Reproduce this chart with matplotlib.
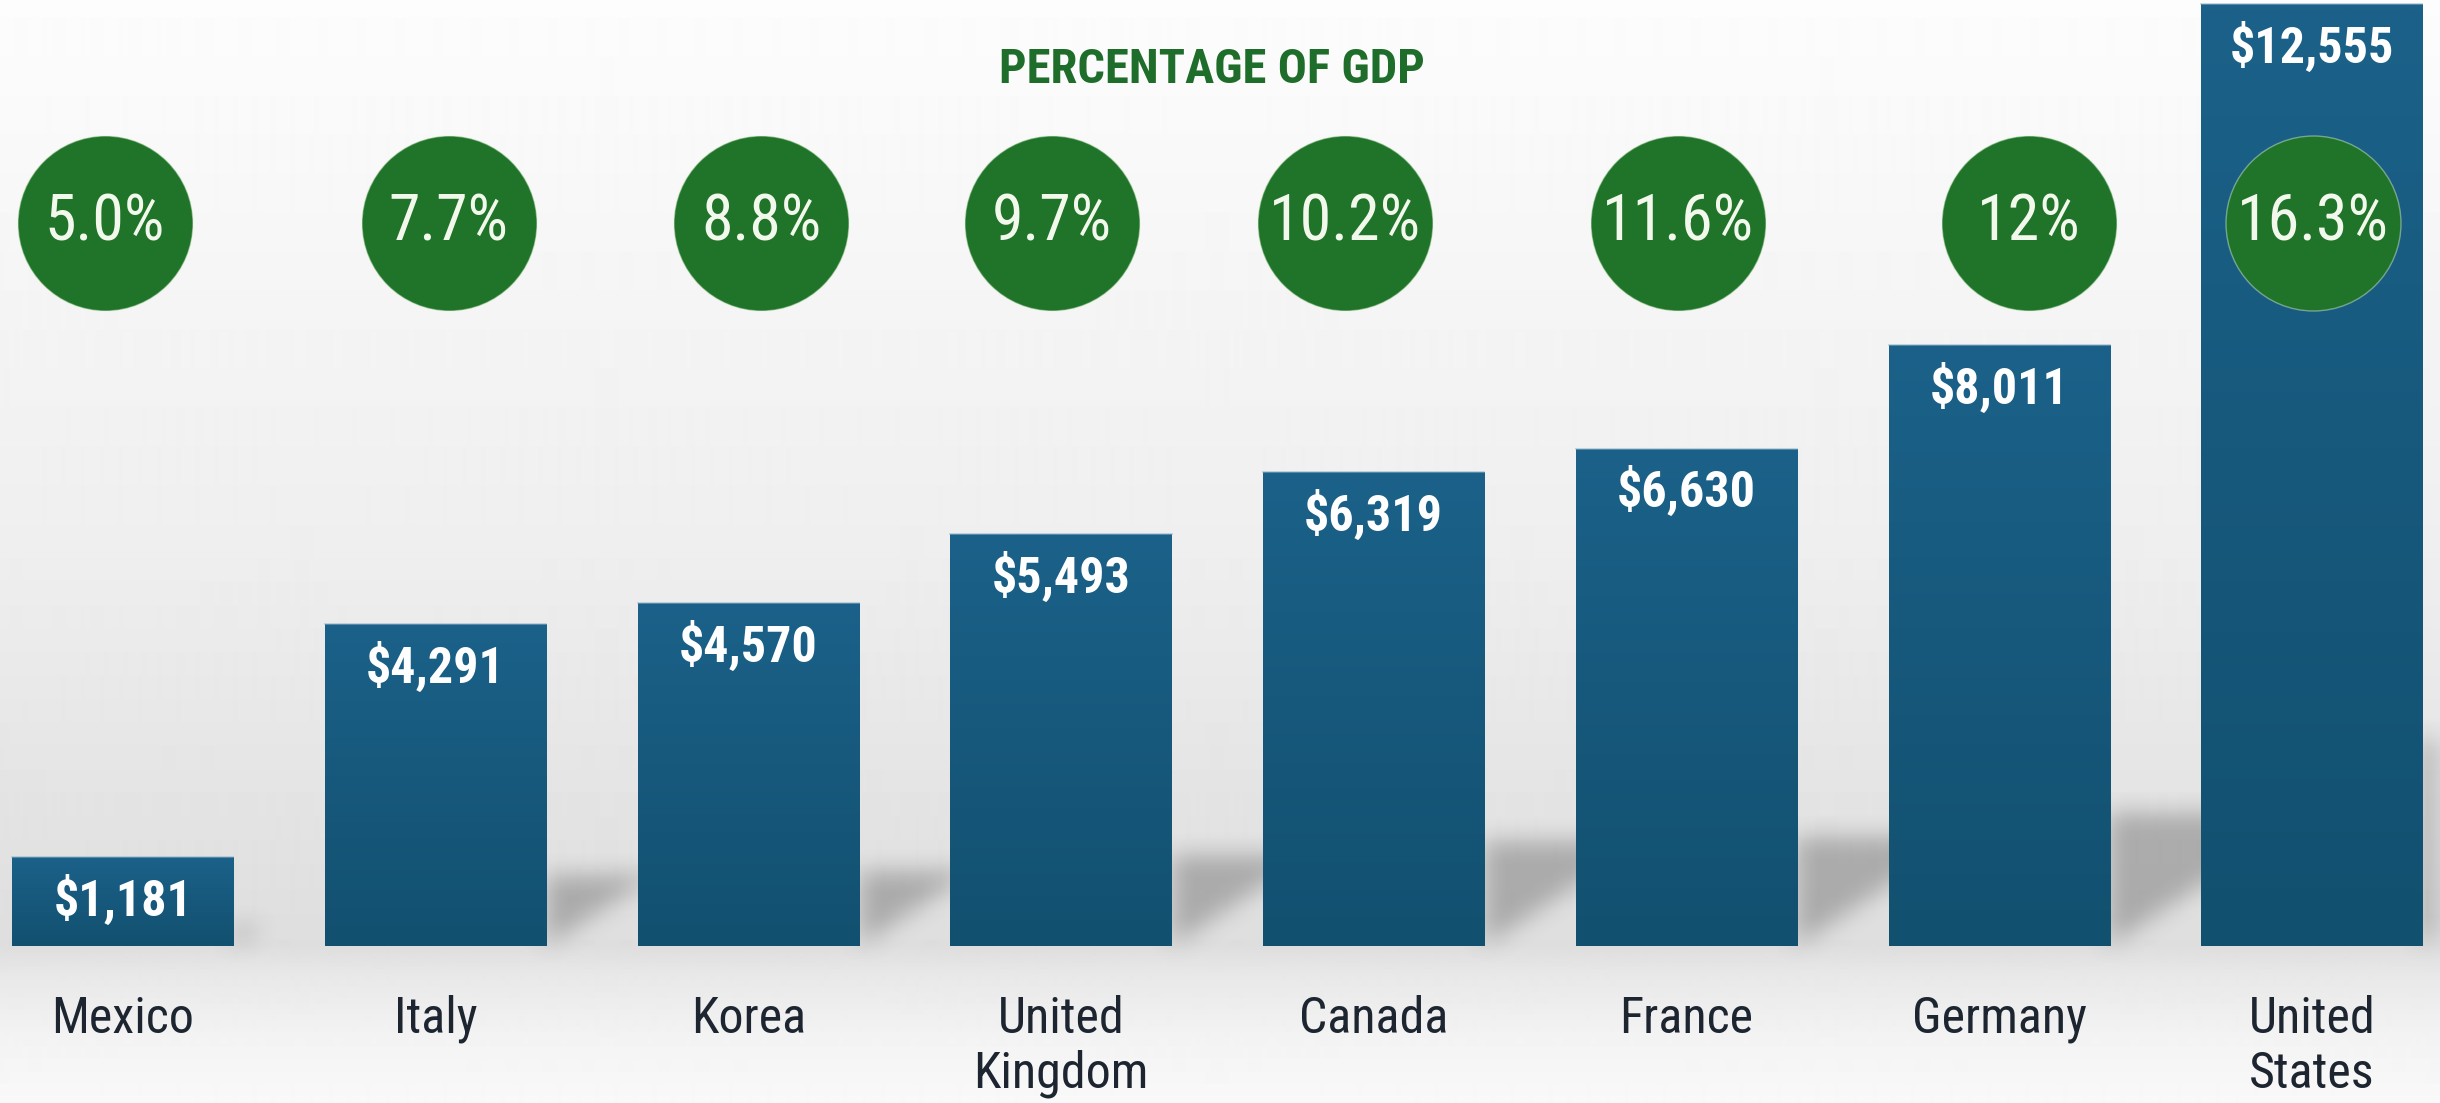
import numpy as np
import matplotlib.pyplot as plt
from matplotlib.colors import LinearSegmentedColormap

# health spending per capita (US$) with share of GDP
countries = ['Mexico', 'Italy', 'Korea', 'United\nKingdom', 'Canada',
             'France', 'Germany', 'United\nStates']
spending = [1181, 4291, 4570, 5493, 6319, 6630, 8011, 12555]
pct_labels = ['5.0%', '7.7%', '8.8%', '9.7%', '10.2%', '11.6%', '12%', '16.3%']
title = 'PERCENTAGE OF GDP'

# --------------------- layout ---------------------
W, H = 2440, 1103
xlim = (-0.393, 7.410)
ylim = (-2093, 12613)
bar_w = 0.707
circle_y = 0.798                     # axes fraction
circle_nudge = [-0.058, 0.042, 0.042, -0.029, -0.093, -0.026, 0.096, 0.003]
shadow_k = 0.22                      # shadow height relative to bar
shadow_slope = 0.65
font = ['Roboto Condensed', 'Liberation Sans']

fig = plt.figure(figsize=(W / 100, H / 100), dpi=100)
ax = fig.add_axes([0, 0, 1, 1])
ax.set_xlim(*xlim)
ax.set_ylim(*ylim)
ax.axis('off')

px_x = W / (xlim[1] - xlim[0])
px_y = H / (ylim[1] - ylim[0])
x = np.arange(len(countries))

# background: light at the top, grey towards the floor line, light again below
rows = np.arange(H)
stops_px = [0, 250, 550, 850, 946, 975, 1040, 1103]
stops_v = [0.99, 0.965, 0.935, 0.885, 0.87, 0.91, 0.955, 0.975]
bg = np.repeat(np.interp(rows, stops_px, stops_v)[:, None], 2, axis=1)
ax.imshow(bg, cmap='gray', vmin=0, vmax=1, extent=[*xlim, *ylim],
          aspect='auto', zorder=0, interpolation='bilinear')

# soft diagonal shadows cast to the right of each bar
gx = np.linspace(xlim[0], xlim[1], W // 2)
gy = np.linspace(ylim[1], ylim[0], H // 2)
X, Y = np.meshgrid(gx, gy)
mask = np.zeros_like(X)
for xi, v in zip(x, spending):
    xr = xi + bar_w / 2
    dx = (X - xr) * px_x
    inside = (dx >= 0) & (Y >= 0) & (Y <= shadow_k * v) & (Y * px_y >= shadow_slope * dx)
    mask[inside] = 1.0

def smooth(a, r):
    k = np.ones(2 * r + 1) / (2 * r + 1)
    for _ in range(2):
        a = np.apply_along_axis(lambda m: np.convolve(m, k, mode='same'), 0, a)
        a = np.apply_along_axis(lambda m: np.convolve(m, k, mode='same'), 1, a)
    return a

mask = smooth(mask, 6)
shadow = np.zeros(mask.shape + (4,))
shadow[..., :3] = 0.33
shadow[..., 3] = 0.38 * mask
ax.imshow(shadow, extent=[*xlim, *ylim], aspect='auto', zorder=1,
          interpolation='bilinear')

# bars with a vertical gradient
bars = ax.bar(x, spending, width=bar_w, color='#175a7e', zorder=2, linewidth=0)
bar_cmap = LinearSegmentedColormap.from_list('bar', ['#1b6189', '#12506f'])
grad = np.linspace(0, 1, 256)[:, None]
for b in bars:
    x0, h = b.get_x(), b.get_height()
    im = ax.imshow(grad, cmap=bar_cmap, extent=[x0, x0 + bar_w, 0, h],
                   aspect='auto', zorder=3, interpolation='bilinear')
    im.set_clip_path(b)
    ax.plot([x0, x0 + bar_w], [h, h], color='#8fb3c8', lw=1.2, alpha=0.6, zorder=4)

ax.set_xlim(*xlim)
ax.set_ylim(*ylim)

# value labels inside the bars
for xi, v in zip(x, spending):
    ax.annotate(f'${v:,}', (xi, v), xytext=(0, -31), textcoords='offset points',
                ha='center', va='center', color='white', fontsize=36,
                fontweight='bold', family=font, zorder=6)

# percentage-of-GDP bubbles
tr = ax.get_xaxis_transform()
cx = x + np.array(circle_nudge)
ax.scatter(cx, [circle_y] * len(cx), s=126 ** 2, transform=tr, color='#20742a',
           edgecolors=(0.88, 0.94, 0.84, 0.45), linewidths=1.0, zorder=5)
for xc, lab in zip(cx, pct_labels):
    ax.text(xc, circle_y, lab, transform=tr, ha='center', va='center',
            fontsize=46, color='#f3f8ec', family=font, zorder=6)

fig.text(0.4967, 0.9365, title, ha='center', va='center', fontsize=35,
         fontweight='bold', color='#1f6d2b', family=font)

# country names under the floor line
for xi, name in zip(x, countries):
    ax.text(xi, 0.098, name, transform=tr, ha='center', va='top',
            fontsize=36, color='#1c2530', family=font, linespacing=1.18)

fig.savefig('out.png', dpi=100)
